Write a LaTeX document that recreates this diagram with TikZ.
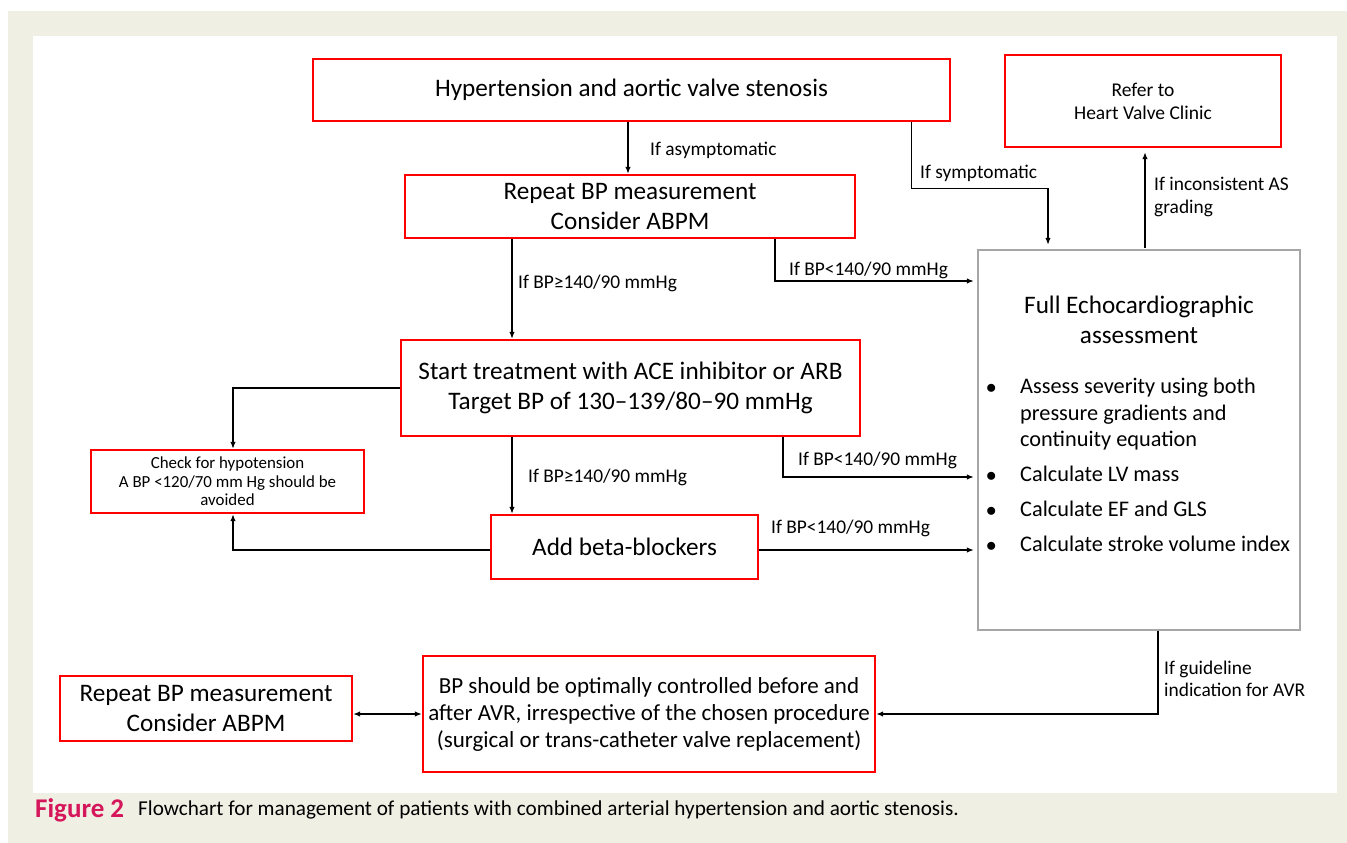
\documentclass[tikz,border=0pt]{standalone}
\usepackage{fontspec}
\setmainfont{Carlito}
\usetikzlibrary{arrows.meta,positioning,calc}
\usepackage{xcolor}
\definecolor{pagebeige}{RGB}{239,239,227}
\definecolor{figred}{RGB}{214,22,90}
\newcommand\htnbig{\fontsize{25.2}{30}\selectfont}
\newcommand\htnmid{\fontsize{23}{27}\selectfont}
\newcommand\htnsmall{\fontsize{19.4}{23}\selectfont}
\tikzset{
    htnbox/.style={draw=red, line width=2.4pt, fill=white, align=center, inner sep=2pt, font=\htnbig},
    echobox/.style={draw=black!35, line width=2.4pt, fill=white},
    htnarrow/.style={-{Latex[length=7pt,width=5.5pt]}, line width=1.3pt},
    htnnote/.style={font=\htnsmall, align=left, inner sep=0pt}
}

\begin{document}
\begin{tikzpicture}[x=1pt, y=-1pt]
        \useasboundingbox (0,0) rectangle (1347,843);
        \fill[pagebeige] (8,11) rectangle (1347,843);
        \fill[white] (33,36) rectangle (1337,793);

        \node[htnbox, minimum width=637pt, minimum height=62pt] (hyper) at (631.5,90) {Hypertension and aortic valve stenosis};
        \node[htnbox, minimum width=276pt, minimum height=92pt, font=\fontsize{19.5}{23}\selectfont] (refer) at (1143,101) {Refer to\\Heart Valve Clinic};
        \node[htnbox, minimum width=450pt, minimum height=63pt] (repeat) at (630,206.5) {Repeat BP measurement\\Consider ABPM};
        \node[echobox, minimum width=322pt, minimum height=380pt] (echo) at (1139,440) {};
        \node[align=center, font=\htnbig] (echotitle) at (1139,320) {Full Echocardiographic\\assessment};
        \node[anchor=north west, inner sep=0pt, font=\fontsize{22.3}{26.5}\selectfont] (echolist) at (986,375)
            {\begin{tabular}{@{}p{34pt}@{}l@{}}
             $\bullet$ & Assess severity using both\\
                       & pressure gradients and\\
                       & continuity equation\\[8.5pt]
             $\bullet$ & Calculate LV mass\\[8.5pt]
             $\bullet$ & Calculate EF and GLS\\[8.5pt]
             $\bullet$ & Calculate stroke volume index
             \end{tabular}};
        \node[htnbox, minimum width=459pt, minimum height=96pt] (start) at (630.5,388) {Start treatment with ACE inhibitor or ARB\\Target BP of 130–139/80–90 mmHg};
        \node[htnbox, minimum width=273pt, minimum height=63pt, font=\fontsize{16.9}{18.5}\selectfont] (check) at (227.5,481.5) {Check for hypotension\\A BP <120/70 mm Hg should be\\avoided};
        \node[htnbox, minimum width=267pt, minimum height=64pt] (beta) at (624.5,547) {Add beta-blockers};
        \node[htnbox, minimum width=292pt, minimum height=65pt] (repeatlow) at (206,708.5) {Repeat BP measurement\\Consider ABPM};
        \node[htnbox, minimum width=452pt, minimum height=116pt, font=\htnmid] (should) at (649,714) {BP should be optimally controlled before and\\after AVR, irrespective of the chosen procedure\\(surgical or trans-catheter valve replacement)};

        % connectors
        \draw[htnarrow] ([xshift=-3.5pt]hyper.south) -- ([xshift=-2pt]repeat.north);
        \draw[htnarrow] ([xshift=-40pt]hyper.south east) -- ++(0,66) -| ([xshift=-91pt,yshift=4pt]echo.north);
        \draw[htnarrow] ([xshift=6pt,yshift=1pt]echo.north) -- ([xshift=2pt,yshift=-4pt]refer.south);
        \draw[htnarrow] ([xshift=-118pt]repeat.south) -- ([xshift=-118.5pt]start.north);
        \draw[htnarrow] ([xshift=145pt]repeat.south) |- ([xshift=-3pt,yshift=159pt]echo.west);
        \draw[htnarrow] (start.west) -| ([xshift=5.5pt]check.north);
        \draw[htnarrow] ([xshift=-118.5pt]start.south) -- ([xshift=-112.5pt]beta.north);
        \draw[htnarrow] ([xshift=152.5pt]start.south) |- ([xshift=-3pt,yshift=-37pt]echo.west);
        \draw[htnarrow] ([yshift=-3pt]beta.west) -| ([xshift=5.5pt]check.south);
        \draw[htnarrow] ([yshift=-3pt]beta.east) -- ([xshift=-3pt,yshift=-110pt]echo.west);
        \draw[htnarrow] ([xshift=19pt]echo.south) |- (should.east);
        \draw[htnarrow, {Latex[length=7pt,width=5.5pt]}-{Latex[length=7pt,width=5.5pt]}] (repeatlow.east |- should.west) -- (should.west);

        % labels
        \node[htnnote, anchor=west] (asym) at (650,150) {If asymptomatic};
        \node[htnnote, anchor=west] (sym) at (920,173) {If symptomatic};
        \node[htnnote, anchor=west] (incons) at (1154,197) {If inconsistent AS\\grading};
        \node[htnnote, anchor=west] (hi1) at (518,283) {If BP≥140/90 mmHg};
        \node[htnnote, anchor=west] (lo1) at (789,270) {If BP<140/90 mmHg};
        \node[htnnote, anchor=west] (hi2) at (528,477) {If BP≥140/90 mmHg};
        \node[htnnote, anchor=west] (lo2) at (798,460) {If BP<140/90 mmHg};
        \node[htnnote, anchor=west] (lo3) at (771,528) {If BP<140/90 mmHg};
        \node[htnnote, anchor=west, font=\fontsize{19.4}{22}\selectfont] (avr) at (1164,679) {If guideline\\indication for AVR};

        % caption
        \node[anchor=west, inner sep=0pt, font=\fontsize{27}{30}\selectfont\bfseries, text=figred] (fig) at (35,810) {Figure 2};
        \node[anchor=west, inner sep=0pt, font=\fontsize{21.2}{24}\selectfont] (caption) at (138,810) {Flowchart for management of patients with combined arterial hypertension and aortic stenosis.};
    \end{tikzpicture}
\end{document}
